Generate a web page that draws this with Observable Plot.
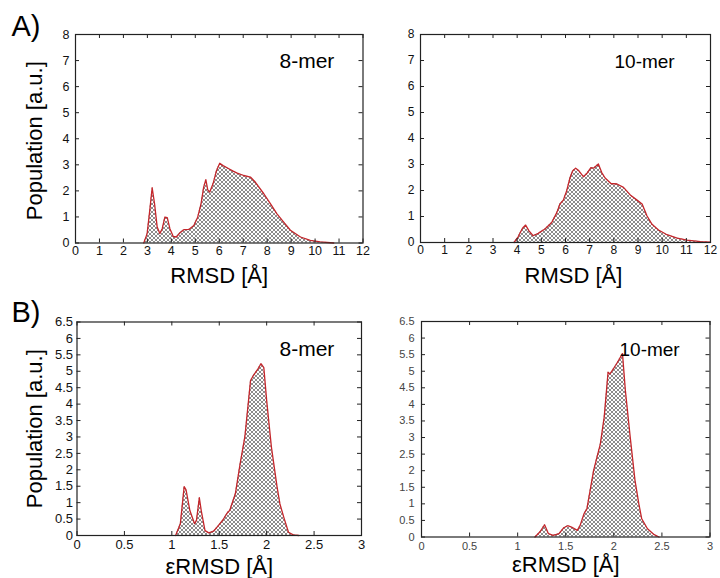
<!DOCTYPE html>
<html><head><meta charset="utf-8">
<script src="https://cdn.jsdelivr.net/npm/d3@7"></script>
<script src="https://cdn.jsdelivr.net/npm/@observablehq/plot@0.6"></script>
<style>
body{margin:0;background:#fff;}
#wrap{position:relative;width:720px;height:578px;overflow:hidden;background:#fff;}
#wrap svg{position:absolute;left:0;top:0;}
</style></head><body><div id="wrap"></div>
<script>
// ---- data ----
const rmsdTicks = [0,1,2,3,4,5,6,7,8,9,10,11,12];
const popTicksA = [0,1,2,3,4,5,6,7,8];
const ermsdTicks = [0,0.5,1,1.5,2,2.5,3];
const popTicksB = [0,0.5,1,1.5,2,2.5,3,3.5,4,4.5,5,5.5,6,6.5];

// A) 8-mer RMSD
const a8X = [2.85,2.99,3.1,3.2,3.3,3.41,3.52,3.62,3.73,3.83,3.94,4.08,4.21,4.35,4.52,4.73,4.94,5.1,5.24,5.35,5.44,5.52,5.6,5.74,5.88,6.02,6.16,6.4,6.58,6.75,7.02,7.3,7.51,7.86,8.14,8.41,8.69,8.97,9.39,9.8,10.22,10.78];
const a8Y = [0,0.36,1.25,2.12,1.5,0.61,0.36,0.55,0.99,0.97,0.55,0.25,0.23,0.38,0.51,0.52,0.67,0.99,1.5,2.14,2.43,2.04,1.95,2.27,2.76,3.06,2.97,2.85,2.76,2.68,2.59,2.53,2.33,1.89,1.5,1.12,0.8,0.49,0.23,0.1,0.04,0];
// A) 10-mer RMSD
const a10X = [3.87,4.04,4.22,4.35,4.49,4.66,4.87,5.15,5.43,5.64,5.77,5.91,6.05,6.19,6.3,6.42,6.53,6.74,6.88,7.05,7.16,7.36,7.5,7.64,7.88,8.13,8.4,8.68,8.96,9.17,9.37,9.58,9.85,10.2,10.62,11.03,11.59,12];
const a10Y = [0,0.22,0.55,0.67,0.45,0.26,0.35,0.52,0.77,1.15,1.48,1.63,1.99,2.5,2.76,2.86,2.78,2.53,2.65,2.88,2.86,3.02,2.69,2.48,2.27,2.25,2.12,1.83,1.63,1.48,1.03,0.7,0.48,0.3,0.17,0.09,0.03,0.01];
// B) 8-mer eRMSD
const b8X = [1.04,1.09,1.13,1.15,1.19,1.24,1.26,1.29,1.31,1.35,1.39,1.44,1.49,1.54,1.59,1.61,1.67,1.72,1.77,1.83,1.86,1.91,1.94,1.97,2.0,2.05,2.11,2.14,2.18,2.23,2.28,2.34];
const b8Y = [0,0.36,1.49,1.39,0.76,0.36,0.46,1.15,0.76,0.15,0.08,0.13,0.3,0.48,0.71,0.76,1.27,2.18,3.0,4.72,4.87,5.08,5.23,5.11,4.11,2.69,1.47,0.96,0.56,0.1,0.02,0];
// B) 10-mer eRMSD
const b10X = [1.18,1.23,1.28,1.32,1.37,1.43,1.48,1.52,1.56,1.62,1.65,1.69,1.72,1.79,1.86,1.9,1.94,1.96,2.02,2.05,2.09,2.12,2.17,2.22,2.26,2.29,2.35,2.42,2.47];
const b10Y = [0,0.15,0.37,0.1,0.05,0.1,0.28,0.34,0.3,0.2,0.35,0.7,0.85,2.01,2.81,3.62,4.97,4.92,5.18,5.33,5.53,4.42,3.02,1.71,1.0,0.55,0.25,0.07,0];

const yLabel = "Population [a.u.]";
const FONT = "'Liberation Sans', Arial, Helvetica, sans-serif";
const RED = "#c4262b";
const fmt = d => String(d);

function panel(cfg) {
  const [L, R, T, B] = cfg.frame;
  const fw = R - L, fh = B - T;
  const data = cfg.xs.map((x, i) => ({x, y: cfg.ys[i]}));
  const txt = (s, o) => Plot.text([s], {text: d => d, fill: "#000", fontFamily: FONT, ...o});
  const marks = [
    Plot.areaY(data, {x: "x", y: "y", fill: `url(#${cfg.id})`}),
    Plot.lineY(data, {x: "x", y: "y", stroke: RED, strokeWidth: 1.3}),
    Plot.tickX(cfg.xTicks, {x: d => d, insetTop: fh - 4, stroke: "#222"}),
    Plot.tickX(cfg.xTicks, {x: d => d, insetBottom: fh - 4, stroke: "#222"}),
    Plot.tickY(cfg.yTicks, {y: d => d, insetRight: fw - 4, stroke: "#222"}),
    Plot.tickY(cfg.yTicks, {y: d => d, insetLeft: fw - 4, stroke: "#222"}),
    Plot.frame({stroke: "#222", strokeWidth: 1.2}),
    txt(cfg.mer, {frameAnchor: "top-left", dx: cfg.merPos[0] - L, dy: cfg.merPos[1] - T, textAnchor: "start", lineAnchor: "bottom", fontSize: cfg.merSize}),
    txt(cfg.xLabel, {frameAnchor: "bottom", dx: cfg.xLabelDx, dy: cfg.xLabelBase - B, textAnchor: "middle", lineAnchor: "bottom", fontSize: 22})
  ];
  if (cfg.showY) marks.push(txt(yLabel, {frameAnchor: "left", rotate: -90, dx: 34 - L, dy: cfg.yLabelDy, textAnchor: "middle", lineAnchor: "middle", fontSize: 22}));
  if (cfg.tag) marks.push(txt(cfg.tag, {frameAnchor: "top-left", dx: 11 - L, dy: cfg.tagBase - T, textAnchor: "start", lineAnchor: "bottom", fontSize: 29}));
  const svg = Plot.plot({
    width: 720, height: 578,
    marginLeft: L, marginRight: 720 - R, marginTop: T, marginBottom: 578 - B,
    style: {background: "none", fontFamily: FONT, fontSize: cfg.tickSize + "px", color: cfg.tickColor, overflow: "visible"},
    x: {domain: cfg.xDomain, ticks: cfg.xTicks, tickSize: 0, tickPadding: cfg.xPad, tickFormat: fmt, label: null},
    y: {domain: cfg.yDomain, ticks: cfg.yTicks, tickSize: 0, tickPadding: cfg.yPad, tickFormat: fmt, label: null},
    marks
  });
  const defs = d3.select(svg).insert("defs", ":first-child");
  const p = defs.append("pattern").attr("id", cfg.id).attr("patternUnits", "userSpaceOnUse").attr("width", 4).attr("height", 4);
  p.append("rect").attr("width", 4).attr("height", 4).attr("fill", "#fff");
  p.append("path").attr("d", "M0,0L4,4M4,0L0,4").attr("stroke", "#6e6e6e").attr("stroke-width", 0.8).attr("fill", "none");
  document.getElementById("wrap").appendChild(svg);
}

panel({id: "hA8", xs: a8X, ys: a8Y, frame: [75, 362.5, 34, 242.5], xDomain: [0, 12], yDomain: [0, 8],
  xTicks: rmsdTicks, yTicks: popTicksA, xPad: 3, yPad: 6, tickSize: 12.5, tickColor: "#111",
  mer: "8-mer", merPos: [279, 67], merSize: 21, xLabel: "RMSD [Å]", xLabelDx: 0, xLabelBase: 282,
  showY: true, yLabelDy: 2, tag: "A)", tagBase: 35});
panel({id: "hA10", xs: a10X, ys: a10Y, frame: [420, 710, 34, 242], xDomain: [0, 12], yDomain: [0, 8],
  xTicks: rmsdTicks, yTicks: popTicksA, xPad: 3, yPad: 6, tickSize: 12, tickColor: "#111",
  mer: "10-mer", merPos: [614, 67], merSize: 19, xLabel: "RMSD [Å]", xLabelDx: 8, xLabelBase: 282,
  showY: false});
panel({id: "hB8", xs: b8X, ys: b8Y, frame: [76.5, 361, 321.5, 535], xDomain: [0, 3], yDomain: [0, 6.5],
  xTicks: ermsdTicks, yTicks: popTicksB, xPad: 4, yPad: 4, tickSize: 13, tickColor: "#111",
  mer: "8-mer", merPos: [279, 355], merSize: 21, xLabel: "εRMSD [Å]", xLabelDx: 0, xLabelBase: 573,
  showY: true, yLabelDy: 0, tag: "B)", tagBase: 321});
panel({id: "hB10", xs: b10X, ys: b10Y, frame: [421, 709.5, 321, 536.5], xDomain: [0, 3], yDomain: [0, 6.5],
  xTicks: ermsdTicks, yTicks: popTicksB, xPad: 5, yPad: 7, tickSize: 11, tickColor: "#444",
  mer: "10-mer", merPos: [619, 355], merSize: 19, xLabel: "εRMSD [Å]", xLabelDx: 0, xLabelBase: 571,
  showY: false});
</script>
</body></html>
